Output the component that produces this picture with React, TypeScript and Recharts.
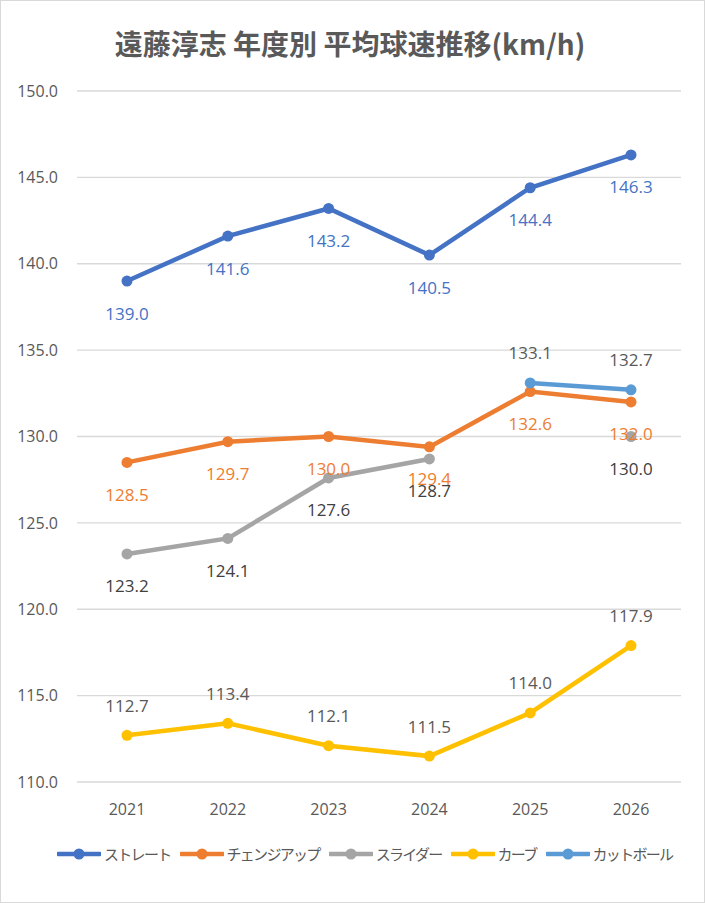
import { CartesianGrid, LabelList, Line, LineChart, XAxis, YAxis } from "recharts";

const years = ["2021", "2022", "2023", "2024", "2025", "2026"];
const straight = [139.0, 141.6, 143.2, 140.5, 144.4, 146.3];
const changeup = [128.5, 129.7, 130.0, 129.4, 132.6, 132.0];
const slider = [123.2, 124.1, 127.6, 128.7, null, 130.0];
const curve = [112.7, 113.4, 112.1, 111.5, 114.0, 117.9];
const cutter = [null, null, null, null, 133.1, 132.7];
const yTicks = [110, 115, 120, 125, 130, 135, 140, 145, 150];

const series = [
  { key: "straight", name: "ストレート", color: "#4472C4", labelColor: "#4472C4", below: true },
  { key: "changeup", name: "チェンジアップ", color: "#ED7D31", labelColor: "#ED7D31", below: true },
  { key: "slider", name: "スライダー", color: "#A5A5A5", labelColor: "#404040", below: true },
  { key: "curve", name: "カーブ", color: "#FFC000", labelColor: "#595959", below: false },
  { key: "cutter", name: "カットボール", color: "#5B9BD5", labelColor: "#595959", below: false },
];

// slider is drawn before changeup so the orange labels sit on top of the grey dot
const drawOrder = ["straight", "slider", "changeup", "curve", "cutter"];

const data = years.map((year, i) => ({
  year,
  straight: straight[i],
  changeup: changeup[i],
  slider: slider[i],
  curve: curve[i],
  cutter: cutter[i],
}));

const numFont = "'Open Sans', 'Noto Sans', sans-serif";
const jpFont = "'Noto Sans CJK JP', 'Noto Sans', sans-serif";

function makeLabel(color: string, below: boolean) {
  return (props: any) => {
    const { x, y, value } = props;
    if (value == null || x == null || y == null) return null;
    return (
      <text
        x={x}
        y={below ? y + 32 : y - 30}
        textAnchor="middle"
        dominantBaseline="central"
        fill={color}
        fontSize={17}
        fontFamily={numFont}
      >
        {Number(value).toFixed(1)}
      </text>
    );
  };
}

export default function App() {
  return (
    <div
      style={{
        position: "absolute",
        left: 0,
        top: 0,
        width: 705,
        height: 903,
        background: "#fff",
      }}
    >
      <div
        style={{
          position: "absolute",
          left: 0,
          top: 0,
          width: 705,
          height: 903,
          boxSizing: "border-box",
          border: "1.5px solid #d9d9d9",
          pointerEvents: "none",
          zIndex: 2,
        }}
      />
      <div
        style={{
          position: "absolute",
          left: 0,
          width: 700,
          top: 24,
          textAlign: "center",
          fontFamily: jpFont,
          fontWeight: 700,
          fontSize: 28,
          lineHeight: "38px",
          color: "#595959",
        }}
      >
        遠藤淳志 年度別 平均球速推移(km/h)
      </div>
      <div style={{ position: "absolute", left: 0, top: 0 }}>
        <LineChart
          width={705}
          height={903}
          data={data}
          margin={{ top: 91, right: 24, bottom: 81, left: 0 }}
        >
          <CartesianGrid vertical={false} stroke="#d9d9d9" strokeWidth={1.3} />
          <XAxis
            dataKey="year"
            height={40}
            padding={{ left: 50, right: 50 }}
            axisLine={false}
            tickLine={false}
            tickSize={0}
            tickMargin={22}
            tick={{ fill: "#595959", fontSize: 16, fontFamily: numFont }}
          />
          <YAxis
            width={77}
            domain={[110, 150]}
            ticks={yTicks}
            interval={0}
            axisLine={false}
            tickLine={false}
            tickSize={0}
            tickMargin={19}
            tickFormatter={(v: number) => v.toFixed(1)}
            tick={{ fill: "#595959", fontSize: 16, fontFamily: numFont }}
          />
          {drawOrder.map((k) => {
            const s = series.find((d) => d.key === k)!;
            return (
              <Line
                key={s.key}
                dataKey={s.key}
                name={s.name}
                stroke={s.color}
                strokeWidth={4.5}
                dot={{ r: 5.5, fill: s.color, stroke: s.color, strokeWidth: 0 }}
                activeDot={false}
                isAnimationActive={false}
              >
                <LabelList dataKey={s.key} content={makeLabel(s.labelColor, s.below)} />
              </Line>
            );
          })}
        </LineChart>
      </div>
      <div
        style={{
          position: "absolute",
          left: 57,
          top: 843,
          display: "flex",
          alignItems: "center",
          fontFamily: jpFont,
          fontSize: 15,
          letterSpacing: -1.7,
          color: "#595959",
          whiteSpace: "nowrap",
        }}
      >
        {series.map((s) => (
          <div key={s.key} style={{ display: "flex", alignItems: "center", marginRight: 9 }}>
            <svg width={44} height={14} style={{ marginRight: 3 }}>
              <line x1={1} y1={7} x2={43} y2={7} stroke={s.color} strokeWidth={4.5} strokeLinecap="round" />
              <circle cx={22} cy={7} r={5.5} fill={s.color} />
            </svg>
            <span>{s.name}</span>
          </div>
        ))}
      </div>
    </div>
  );
}
